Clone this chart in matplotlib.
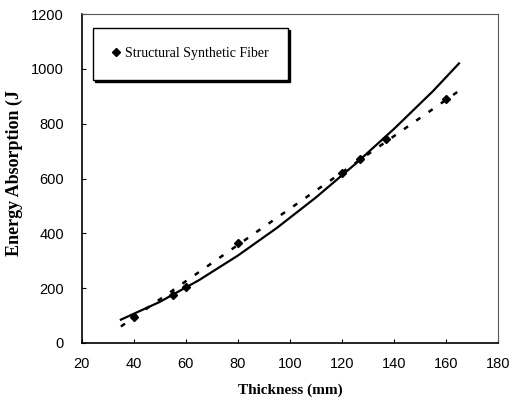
import matplotlib
matplotlib.use("Agg")
import matplotlib.pyplot as plt
from matplotlib.lines import Line2D

# measured points (diamonds)
thick = [40, 55, 60, 80, 120, 127, 137, 160]
energy = [95, 175, 205, 365, 620, 670, 745, 890]

# solid trend curve
curve_x = [35, 50, 65, 80, 95, 110, 125, 140, 155, 165]
curve_y = [85, 150, 229, 319, 420, 531, 652, 781, 919, 1020]

# dashed linear trend, end points
lin_x = [35, 165]
lin_y = [60, 920]

fig = plt.figure(figsize=(5.15, 4.03), dpi=100)
ax = fig.add_axes([0.159, 0.149, 0.808, 0.816])

ax.plot(curve_x, curve_y, color="black", lw=1.6)
ax.plot(lin_x, lin_y, color="black", lw=1.8, linestyle=(0, (2, 4)))
ax.plot(thick, energy, linestyle="none", marker="D", ms=4, color="black")

ax.set_xlim(20, 180)
ax.set_ylim(0, 1200)
ax.set_xticks(range(20, 181, 20))
ax.set_yticks(range(0, 1201, 200))
ax.tick_params(direction="in", length=3, labelsize=10.5)
ax.tick_params(axis="y", pad=13)
ax.tick_params(axis="x", pad=10)
for lab in ax.get_xticklabels() + ax.get_yticklabels():
    lab.set_fontfamily("Liberation Sans")

for side in ["top", "right"]:
    ax.spines[side].set_linestyle((0, (1, 1)))
    ax.spines[side].set_color("0.35")
    ax.spines[side].set_linewidth(0.8)
ax.spines["left"].set_linewidth(1.2)
ax.spines["bottom"].set_linewidth(1.2)

ax.set_xlabel("Thickness (mm)", fontfamily="Liberation Serif", fontweight="bold", fontsize=11)
ax.xaxis.set_label_coords(0.5, -0.122)
ax.set_ylabel("Energy Absorption (J", fontfamily="Liberation Serif", fontweight="bold", fontsize=13)
ax.yaxis.set_label_coords(-0.142, 0.517)

handle = Line2D([], [], linestyle="none", marker="D", ms=4, color="black")
leg = ax.legend([handle], ["Structural Synthetic Fiber"], loc="center",
                bbox_to_anchor=(0.26, 0.88), frameon=True,
                shadow={"color": "black", "alpha": 1}, fancybox=False,
                prop={"family": "Liberation Serif", "size": 10}, handlelength=0.6,
                handletextpad=0.3, borderpad=1.4)
leg.get_frame().set_edgecolor("black")
leg.get_frame().set_linewidth(1.0)

fig.savefig("out.png", dpi=100)
